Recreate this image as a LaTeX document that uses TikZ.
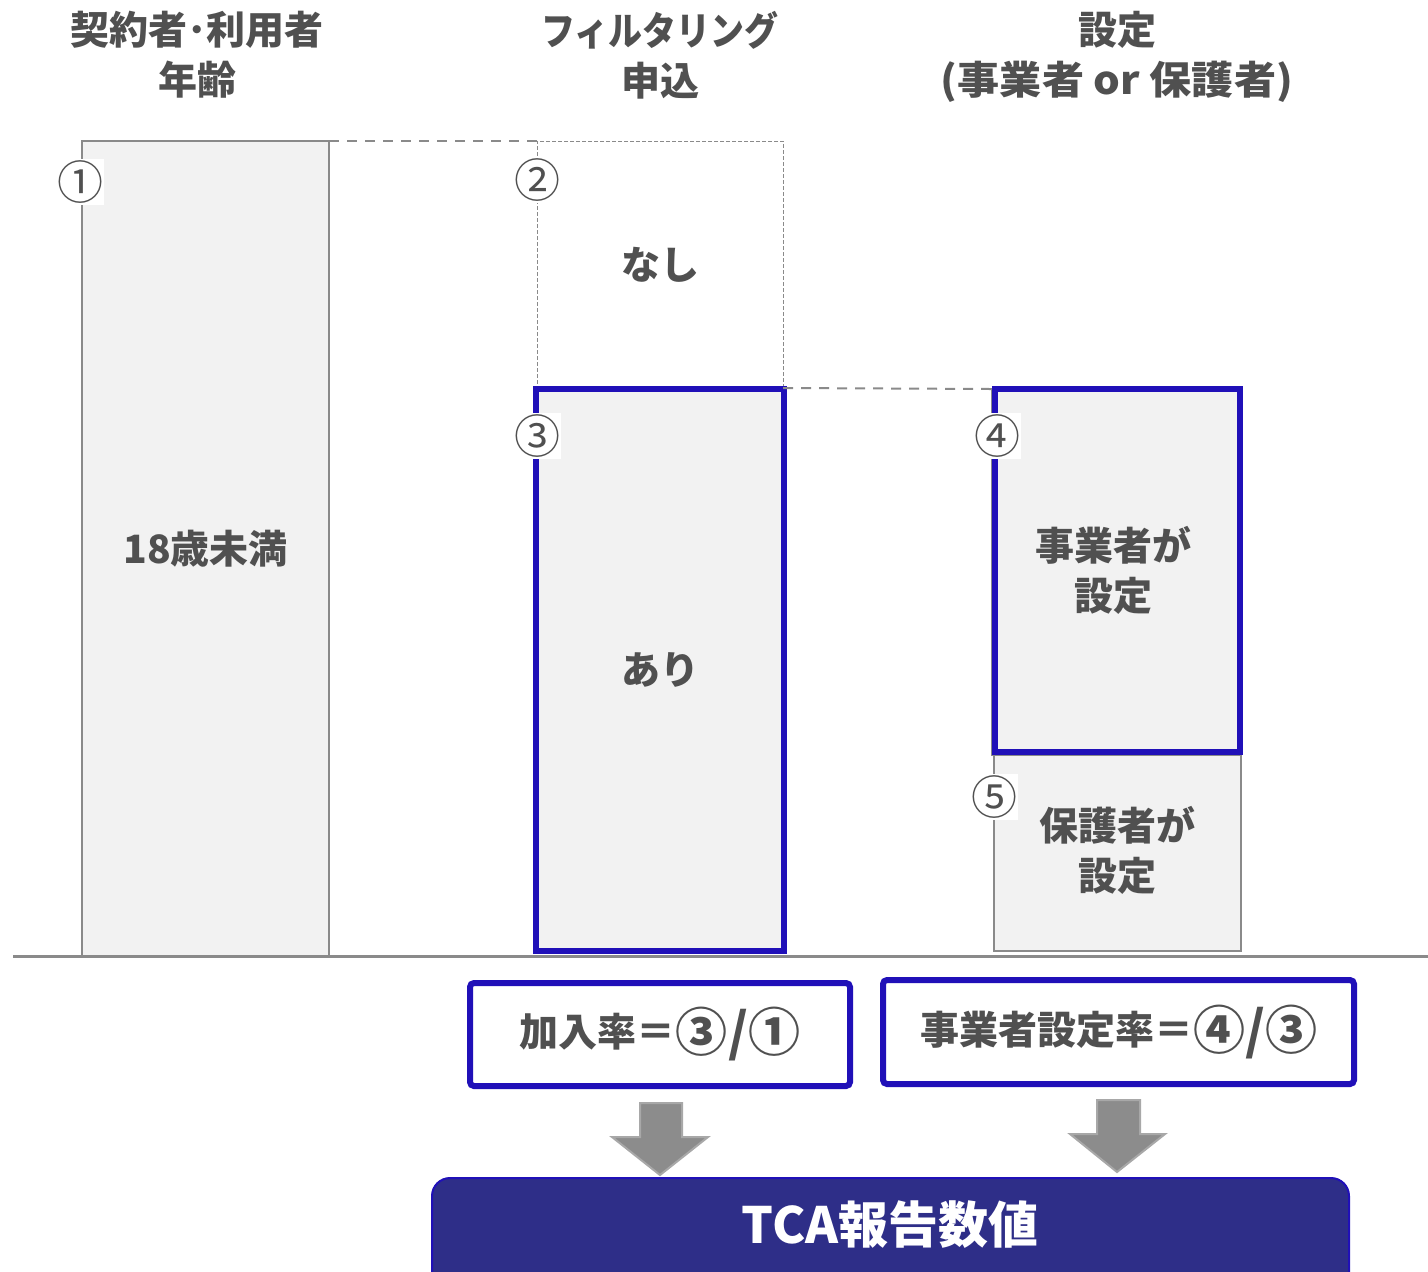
\documentclass[tikz,border=0pt]{standalone}
\usepackage{fontspec}
\setmainfont{Noto Sans CJK JP}
\usetikzlibrary{fit}
\definecolor{txt}{HTML}{505050}
\definecolor{frame}{HTML}{8A8A8A}
\definecolor{boxfill}{HTML}{F2F2F2}
\definecolor{hiblue}{HTML}{2010B8}
\definecolor{navy}{HTML}{2E2E88}
\definecolor{arrowgray}{HTML}{8C8C8C}
\definecolor{arrowedge}{HTML}{A8A8A8}
\newcommand{\bigc}[1]{\raisebox{-2.5pt}{\fontsize{26}{25}\selectfont #1}}
\tikzset{
  lbl/.style={font=\fontsize{19.5}{25}\selectfont\bfseries, text=txt, align=center},
  headlbl/.style={font=\fontsize{19.5}{25}\selectfont\bfseries, text=txt, align=center},
  num/.style={font=\fontsize{23}{24}\selectfont, text=txt, fill=white, inner xsep=0.5pt, inner ysep=1pt},
  bar/.style={fill=boxfill, draw=frame, line width=1pt, inner sep=0pt, outer sep=0pt},
  ghost/.style={fill=white, draw=frame, line width=0.5pt, dash pattern=on 2pt off 1pt, inner sep=0pt, outer sep=0pt},
  hiframe/.style={draw=hiblue, line width=3.2pt, inner sep=0pt, outer sep=0pt},
  formula/.style={draw=hiblue, fill=white, line width=3pt, rounded corners=2pt, inner sep=0pt, outer sep=0pt},
  link/.style={draw=frame, line width=1pt, dash pattern=on 5pt off 4pt},
  blockarrow/.style={fill=arrowgray, draw=arrowedge, line width=1pt},
}
\begin{document}
\begin{tikzpicture}[x=0.5pt,y=-0.5pt]
\useasboundingbox (0,0) rectangle (1428,1271);
\clip (0,0) rectangle (1428,1271);

% headers
\node[headlbl] (h1) at (197,55) {契約者･利用者\\年齢};
\node[headlbl] (h2) at (660,55) {\scalebox{0.87}[1]{フィルタリング}\\申込};
\node[headlbl] (h3) at (1117,57) {設定\\\scalebox{1.08}[1]{(事業者 or 保護者)}};

% column 1
\node[bar, fit={(82,141) (329,956)}] (b1) {};
\node[lbl] at (b1.center) {18歳未満};

% column 2
\node[ghost, fit={(537,141) (783,388)}] (b2) {};
\node[lbl] at (660,265) {なし};
\node[bar, draw=none, fit={(536,389) (784,951)}] (b3) {};
\node[hiframe, fit={(536,389) (784,951)}] (b3f) {};
\node[lbl] at (660,670) {あり};

% column 3
\node[bar, fit={(994,755) (1241,951)}] (b5) {};
\node[bar, fit={(992,389) (1241,755)}] (b4) {};
\node[hiframe, fit={(995,389) (1240,752)}] (b4f) {};
\node[lbl] at (1113,570) {事業者が\\設定};
\node[lbl] at (1117,850) {保護者が\\設定};

% dashed links
\draw[link] (b1.north east) -- (b2.north west);
\draw[link] (b2.south east) -- (b4.north west);

% baseline
\coordinate (bl0) at (13,956);
\coordinate (bl1) at (1428,956);
\draw[frame, line width=1.5pt] (bl0) -- (bl1);

% circled numbers
\node[num] at (80,182) {①};
\node[num] at (537,180) {②};
\node[num] at (537,436) {③};
\node[num] at (997,436) {④};
\node[num] at (994,797) {⑤};

% formulas
\node[formula, fit={(470,983) (850,1086)}] (f1) {};
\node[lbl] at (f1.center) {加入率＝\bigc{③}\bigc{/}\bigc{①}};
\node[formula, fit={(883,980) (1354,1084)}] (f2) {};
\node[lbl] at (f2.center) {事業者設定率＝\bigc{④}\bigc{/}\bigc{③}};

% result
\node[fill=navy, draw=hiblue, line width=1pt, rounded corners=9pt, inner sep=0pt, fit={(432,1178) (1349,1300)}] (res) {};
\node[font=\fontsize{25}{30}\selectfont\bfseries, text=white] at (890,1225) {TCA報告数値};

% block arrows
\draw[blockarrow] (640,1103) -- (682,1103) -- (682,1137) -- (708,1137) -- (660,1175) -- (612,1137) -- (640,1137) -- cycle;
\draw[blockarrow] (1097,1100) -- (1140,1100) -- (1140,1134) -- (1165,1134) -- (1117,1172) -- (1070,1134) -- (1097,1134) -- cycle;
\end{tikzpicture}
\end{document}
